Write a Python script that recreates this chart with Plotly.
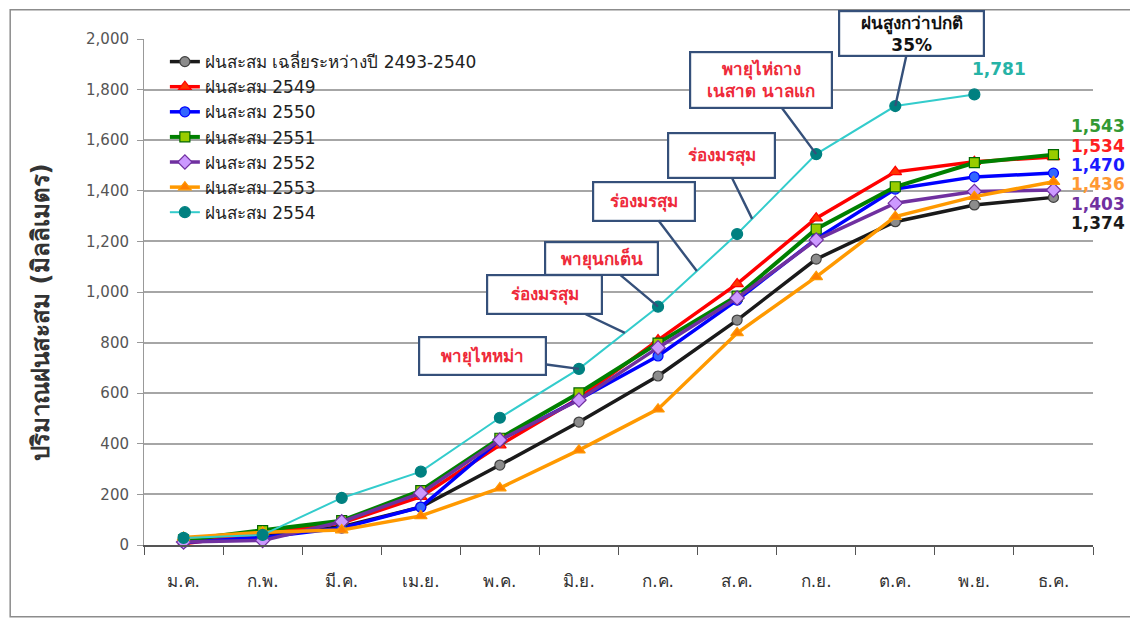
import plotly.graph_objects as go

months = ["ม.ค.", "ก.พ.", "มี.ค.", "เม.ย.", "พ.ค.", "มิ.ย.", "ก.ค.", "ส.ค.", "ก.ย.", "ต.ค.", "พ.ย.", "ธ.ค."]

avg_2493_2540 = [15, 40, 72, 150, 316, 486, 668, 889, 1130, 1278, 1344, 1374]
rain_2549 = [5, 45, 87, 191, 395, 580, 810, 1032, 1292, 1475, 1515, 1534]
rain_2550 = [10, 30, 67, 150, 415, 575, 747, 968, 1210, 1407, 1455, 1470]
rain_2551 = [20, 57, 96, 215, 422, 601, 798, 984, 1249, 1416, 1511, 1543]
rain_2552 = [12, 18, 92, 205, 415, 573, 780, 976, 1206, 1351, 1397, 1403]
rain_2553 = [30, 50, 59, 115, 225, 375, 537, 838, 1060, 1298, 1377, 1436]
rain_2554 = [28, 40, 186, 290, 503, 696, 942, 1229, 1545, 1735, 1781]

series_names = [
    "ฝนสะสม เฉลี่ยระหว่างปี 2493-2540",
    "ฝนสะสม 2549",
    "ฝนสะสม 2550",
    "ฝนสะสม 2551",
    "ฝนสะสม 2552",
    "ฝนสะสม 2553",
    "ฝนสะสม 2554",
]

y_title = "ปริมาณฝนสะสม (มิลลิเมตร)"

callout_texts = [
    "พายุไหหม่า",
    "ร่องมรสุม",
    "พายุนกเต็น",
    "ร่องมรสุม",
    "ร่องมรสุม",
    "พายุไห่ถาง<br>เนสาด นาลแก",
    "ฝนสูงกว่าปกติ<br>35%",
]
# month index of each callout's pointer on the 2554 line
callout_pos = [5, 5.58, 6, 6.49, 7.19, 8, 9]

FONT = "Tahoma, 'DejaVu Sans', 'Noto Sans', sans-serif"

styles = [
    dict(lc="#1a1a1a", lw=3.5, sym="circle", mc="#8c8c8c", ml="#404040", ms=10),
    dict(lc="#ff0000", lw=3.5, sym="triangle-up", mc="#ff3300", ml="#ff0000", ms=11),
    dict(lc="#0000ff", lw=3.5, sym="circle", mc="#3366ff", ml="#0000ff", ms=10),
    dict(lc="#008000", lw=4, sym="square", mc="#99cc00", ml="#006600", ms=10),
    dict(lc="#7030a0", lw=3.5, sym="diamond", mc="#cc99ff", ml="#7030a0", ms=11),
    dict(lc="#ff9900", lw=3.5, sym="triangle-up", mc="#ff8000", ml="#ff9900", ms=11),
    dict(lc="#33cccc", lw=2, sym="circle", mc="#008080", ml="#008080", ms=11),
]

all_series = [avg_2493_2540, rain_2549, rain_2550, rain_2551, rain_2552, rain_2553, rain_2554]

fig = go.Figure()
for name, vals, st in zip(series_names, all_series, styles):
    fig.add_trace(go.Scatter(
        x=months[:len(vals)], y=vals, name=name, mode="lines+markers",
        line=dict(color=st["lc"], width=st["lw"]),
        marker=dict(symbol=st["sym"], color=st["mc"], size=st["ms"],
                    line=dict(color=st["ml"], width=1.2)),
        cliponaxis=False,
    ))

annotations = []
# end value labels
end_colors = ["#1a1a1a", "#ff2020", "#1a1aff", "#339933", "#7030a0", "#ff9933"]
end_shift = [-26, 11.4, 8.1, 28.6, -14, -2.8]
for vals, col, ys in zip(all_series[:6], end_colors, end_shift):
    annotations.append(dict(
        x=len(vals) - 1, y=vals[-1], xref="x", yref="y",
        text=f"{vals[-1]:,}", showarrow=False, xshift=45, yshift=ys,
        font=dict(family="Verdana, 'DejaVu Sans', sans-serif", size=17, color=col, weight="bold"),
    ))
annotations.append(dict(
    x=len(rain_2554) - 1, y=rain_2554[-1], xref="x", yref="y",
    text=f"{rain_2554[-1]:,}", showarrow=False, xshift=25, yshift=25,
    font=dict(family="Verdana, 'DejaVu Sans', sans-serif", size=17, color="#26b3a6", weight="bold"),
))

# y axis title
annotations.append(dict(
    x=-0.108, y=0.46, xref="paper", yref="paper", text=f"<b>{y_title}</b>",
    textangle=-90, showarrow=False, xanchor="center", yanchor="middle",
    font=dict(family=FONT, size=24, color="#333333"),
))


def teal_at(p):
    i = int(p)
    f = p - i
    if f == 0:
        return rain_2554[i]
    return rain_2554[i] + f * (rain_2554[i + 1] - rain_2554[i])


box_offsets = [(-96, -13), (-80, -38), (-57, -48), (-53, -70), (-31, -63), (-55, -74), (16, -73)]
box_sizes = [(119, 30), (107, 31), (105, 25), (94, 31), (99, 37), (134, 48), (137, 37)]
for i, (txt, p, off, sz) in enumerate(zip(callout_texts, callout_pos, box_offsets, box_sizes)):
    is_last = i == len(callout_texts) - 1
    annotations.append(dict(
        x=p, y=teal_at(p), xref="x", yref="y",
        text=f"<b>{txt}</b>", showarrow=True, arrowhead=0, arrowwidth=2.4,
        arrowcolor="#35507a", ax=off[0], ay=off[1], standoff=0,
        bordercolor="#35507a", borderwidth=2.2, borderpad=3, bgcolor="white",
        width=sz[0], height=sz[1],
        font=dict(family=FONT, size=17, color="#111111" if is_last else "#ee2a3a"),
    ))

fig.update_layout(
    width=1130, height=610,
    paper_bgcolor="white", plot_bgcolor="white",
    margin=dict(l=136, r=45, t=31, b=73),
    font=dict(family=FONT, color="#333333"),
    showlegend=True,
    legend=dict(
        x=0.022, y=0.99, xanchor="left", yanchor="top",
        font=dict(family=FONT, size=17, color="#222222"),
        bgcolor="rgba(255,255,255,0)", itemwidth=30, tracegroupgap=0,
    ),
    xaxis=dict(
        type="category", categoryorder="array", categoryarray=months,
        range=[-0.5, 11.5], tickson="boundaries", ticks="outside", ticklen=8,
        tickcolor="#555555", showline=True, linecolor="#555555", linewidth=1.5,
        showgrid=False, ticklabelstandoff=20,
        tickfont=dict(family=FONT, size=17, color="#333333"),
    ),
    yaxis=dict(
        range=[0, 2000], dtick=200, tickformat=",d", ticks="outside", ticklen=6,
        tickcolor="#999999", showline=True, linecolor="#999999", linewidth=1,
        showgrid=True, gridcolor="#a6a6a6", gridwidth=1.5, zeroline=False,
        ticklabelstandoff=5,
        tickfont=dict(family="Verdana, 'DejaVu Sans', sans-serif", size=15, color="#555555"),
    ),
    annotations=annotations,
    shapes=[dict(type="rect", xref="paper", yref="paper",
                 x0=-0.141, x1=1.06, y0=-0.142, y1=1.058,
                 line=dict(color="#8c8c8c", width=1.5), fillcolor="rgba(0,0,0,0)", layer="below")],
)

fig.write_html("out.html")
